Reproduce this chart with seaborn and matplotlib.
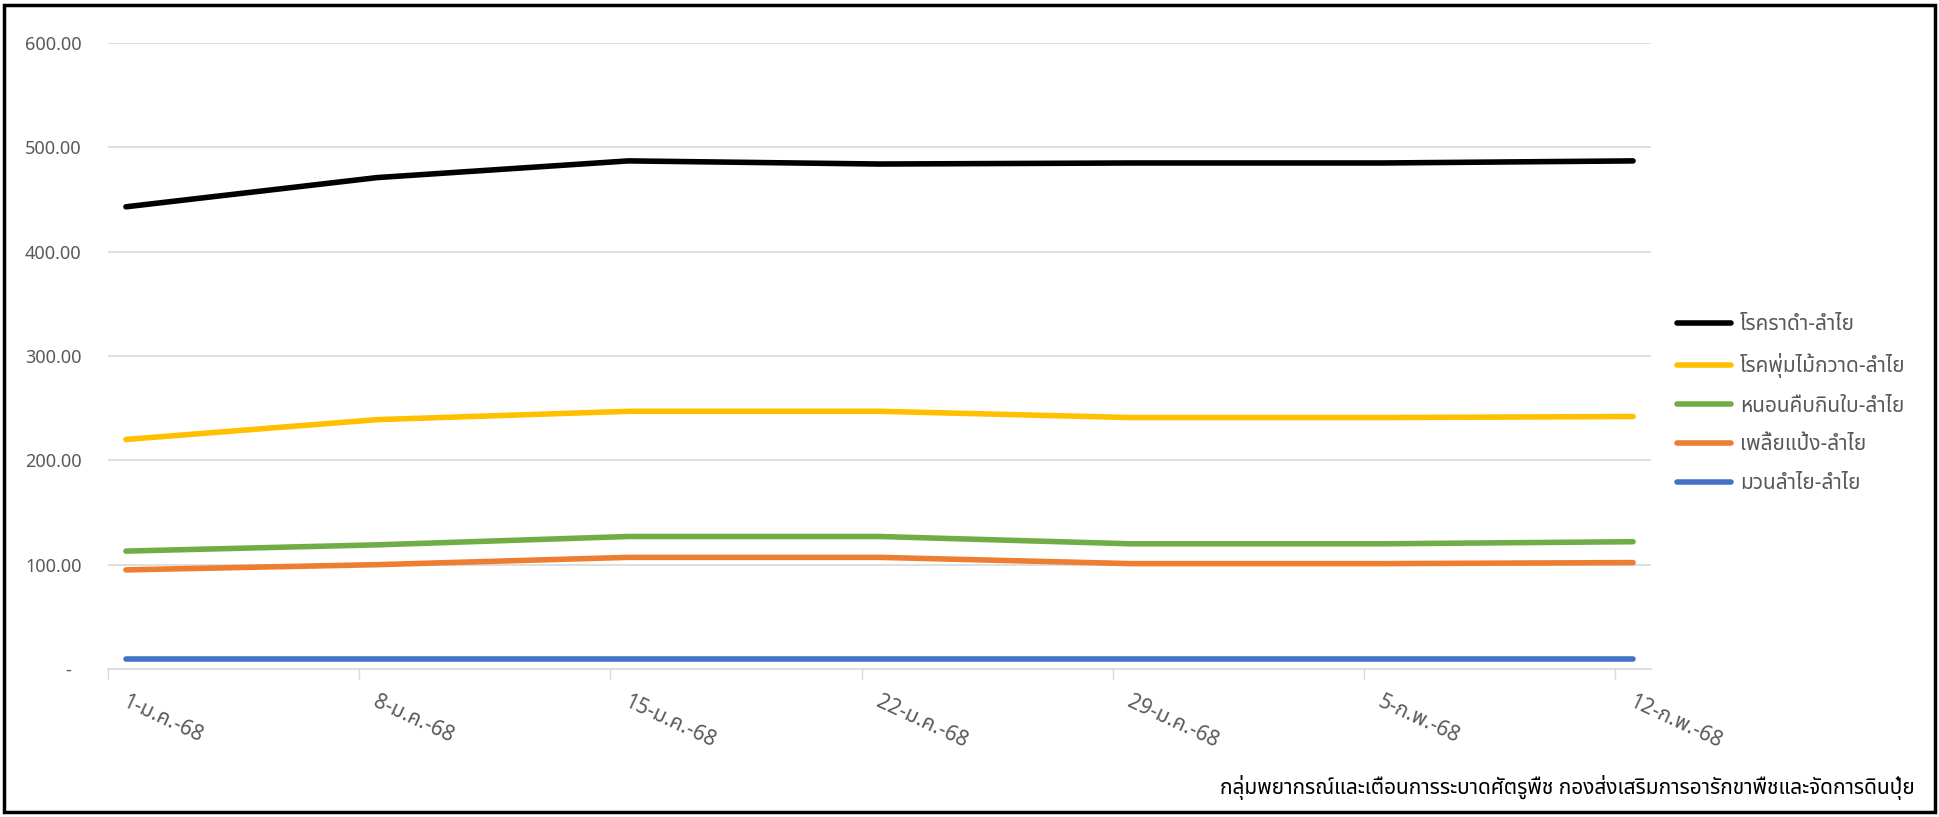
import pandas as pd
import numpy as np
import matplotlib
matplotlib.use("Agg")
import matplotlib.pyplot as plt
import matplotlib.transforms as mtransforms
import seaborn as sns
from matplotlib import font_manager
from matplotlib.ft2font import FT2Font
from matplotlib.patches import Rectangle

# data
dates = ['2025-01-01', '2025-01-08', '2025-01-15', '2025-01-22',
         '2025-01-29', '2025-02-05', '2025-02-12']
tick_labels = ['1-ม.ค.-68', '8-ม.ค.-68', '15-ม.ค.-68', '22-ม.ค.-68',
               '29-ม.ค.-68', '5-ก.พ.-68', '12-ก.พ.-68']

sooty_mold = [443, 471, 487, 484, 485, 485, 487]
witches_broom = [220, 239, 247, 247, 241, 241, 242]
leaf_caterpillar = [113, 119, 127, 127, 120, 120, 122]
mealybug = [95, 100, 107, 107, 101, 101, 102]
leaf_roller = [10, 10, 10, 10, 10, 10, 10]

series_names = ['โรคราดำ-ลำไย', 'โรคพุ่มไม้กวาด-ลำไย', 'หนอนคืบกินใบ-ลำไย',
                'เพลี้ยแป้ง-ลำไย', 'มวนลำไย-ลำไย']
series_colors = ['#000000', '#FFC000', '#70AD47', '#ED7D31', '#4472C4']

footer = 'กลุ่มพยากรณ์และเตือนการระบาดศัตรูพืช กองส่งเสริมการอารักขาพืชและจัดการดินปุ๋ย'


def find_thai_font():
    """Pick an installed font that has Thai glyphs"""
    found = []
    for f in font_manager.fontManager.ttflist:
        try:
            ft = FT2Font(f.fname)
            if ft.get_char_index(ord('ก')) and ft.get_char_index(ord('ำ')):
                found.append(f.name)
        except Exception:
            pass
    for pref in ['Tahoma', 'Noto Sans Thai', 'Noto Sans Thai UI', 'Leelawadee UI',
                 'Loma', 'Garuda', 'Sarabun', 'Kinnari', 'Norasi', 'TlwgTypo']:
        if pref in found:
            return pref
    return found[0] if found else None


sns.set_theme(style='white')
thai_font = find_thai_font()
families = ['DejaVu Sans']
if thai_font:
    families = [thai_font, 'DejaVu Sans']
plt.rcParams['font.family'] = families

start = pd.to_datetime(dates[0])
day_offset = [(d - start).days for d in pd.to_datetime(dates)]

rows = []
values = [sooty_mold, witches_broom, leaf_caterpillar, mealybug, leaf_roller]
for name, vals in zip(series_names, values):
    for off, v in zip(day_offset, vals):
        rows.append({'day': off + 0.5, 'value': v, 'series': name})
df = pd.DataFrame(rows)

fig = plt.figure(figsize=(19.4, 8.17), dpi=100)
ax = fig.add_axes([108 / 1940, 1 - 669 / 817, (1651 - 108) / 1940, (669 - 43) / 817])

sns.lineplot(data=df, x='day', y='value', hue='series', hue_order=series_names,
             palette=series_colors, linewidth=4, ax=ax, legend=True)

ax.set_xlim(0, day_offset[-1] + 1)
ax.set_ylim(0, 600)
yticks = [0, 100, 200, 300, 400, 500, 600]
ax.set_yticks(yticks)
ax.set_yticklabels(['-  '] + [f'{t:.2f}' for t in yticks[1:]])
ax.set_xticks(day_offset)
ax.set_xticklabels(tick_labels, rotation=-25, ha='left', va='top',
                   rotation_mode='anchor')
ax.tick_params(axis='y', length=0, pad=19, labelsize=13, labelcolor='#595959')
ax.tick_params(axis='x', direction='out', length=7, width=1, color='#D9D9D9',
               pad=9, labelsize=15, labelcolor='#595959', bottom=True)
shift = mtransforms.ScaledTranslation(20 / 100, 0, fig.dpi_scale_trans)
for lbl in ax.get_xticklabels():
    lbl.set_transform(lbl.get_transform() + shift)
ax.grid(axis='y', color='#D9D9D9', linewidth=1.2)
ax.grid(axis='x', visible=False)
for side in ['top', 'right', 'left']:
    ax.spines[side].set_visible(False)
ax.spines['bottom'].set_color('#D9D9D9')
ax.spines['bottom'].set_linewidth(1.2)
ax.set_xlabel('')
ax.set_ylabel('')

leg = ax.legend(loc='center left', bbox_to_anchor=(1658 / 1940, 1 - 404 / 817),
                bbox_transform=fig.transFigure, frameon=False, fontsize=15,
                handlelength=2.6, handletextpad=0.45, labelspacing=0.85)
for line in leg.get_lines():
    line.set_linewidth(4)
for txt in leg.get_texts():
    txt.set_color('#595959')

fig.text(1915 / 1940, 1 - 788 / 817, footer, ha='right', va='center',
         fontsize=15, color='#000000')

fig.patches.append(Rectangle((4 / 1940, 5 / 817), 1 - 9 / 1940, 1 - 10 / 817,
                             transform=fig.transFigure, fill=False,
                             edgecolor='black', linewidth=2.5))

fig.savefig('out.png', dpi=100)
